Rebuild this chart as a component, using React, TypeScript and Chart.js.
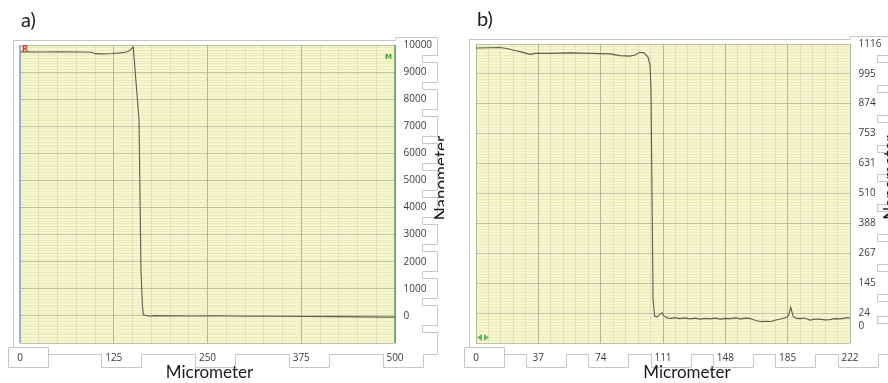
import React, { useEffect, useRef } from "react";
import { Chart, registerables } from "chart.js";

Chart.register(...registerables);

// ---- a) full scan: position (µm) vs height (nm) ----
const scanAx = [0, 25, 55, 80, 96, 100, 110, 122, 134, 142, 146, 148.5, 151, 158.7, 161.3, 163.2, 164.4, 167, 172, 180, 200, 230, 260, 300, 340, 380, 420, 460, 500];
const scanAy = [9745, 9742, 9748, 9740, 9735, 9680, 9672, 9685, 9710, 9740, 9790, 9860, 9930, 7230, 1700, 400, 40, 25, -10, 10, 0, -5, 5, -10, -15, -20, -25, -35, -45];
const xTicksA = [0, 125, 250, 375, 500];
const yTicksA = [10000, 9000, 8000, 7000, 6000, 5000, 4000, 3000, 2000, 1000, 0];
const yGridA = [10000, 9000, 8000, 7000, 6000, 5000, 4000, 3000, 2000, 1000, 0, -1000];

// ---- b) zoomed scan ----
const scanBx = [0, 8, 14, 18.4, 23, 28, 32, 35, 44, 56, 68, 79.5, 85.5, 91.4, 94.4, 97.3, 99.7, 102.1, 103.3, 103.9, 104.5, 105.1, 106, 107.4, 109.2, 110.4, 111.6, 114, 116, 118, 121, 124, 127, 130, 133, 136, 139, 142, 145, 148, 151, 154, 157, 160, 163, 166, 169, 172, 175, 178, 181, 184, 185.5, 186.8, 188.3, 190, 192.3, 195, 198.3, 201, 204, 207, 210, 213, 216, 219, 221, 222];
const scanBy = [1100, 1101, 1102, 1098, 1090, 1082, 1074, 1078, 1078, 1080, 1078, 1076, 1069, 1067, 1071, 1082, 1080, 1063, 1031, 930, 485, 80, 12, 8, 20, 26, 12, 4, 3, 6, 2, 5, 1, 4, 0, 3, 1, 4, 0, 3, 2, 5, 1, 4, 2, -6, -10, -9, -10, -4, 0, 6, 14, 48, 10, 4, 2, 4, -4, 0, 0, -3, -2, 2, 1, 4, 6, 2];
const xTicksB = [0, 37, 74, 111, 148, 185, 222];
const yTicksB = [1116, 995, 874, 753, 631, 510, 388, 267, 145, 24, 0];
const yGridB = [1116, 995, 874, 753, 631, 510, 388, 267, 145, 24, -97];

const PAPER = "#f7f7cf";
const MAJOR_V = "rgba(158,162,146,0.8)";
const MAJOR_H = "rgba(176,178,148,0.8)";
const MINOR_V = "rgba(170,170,160,0.28)";
const MINOR_H = "rgba(212,212,150,0.32)";
const BOX = "#c6c6c6";
const TRACE = "#5c5c52";
const TICK_FONT = '10px "Open Sans", sans-serif';
const TITLE_FONT = '17px Lato, sans-serif';
const TAG_FONT = '20px Lato, sans-serif';

interface PanelSpec {
  tag: string;
  xs: number[];
  ys: number[];
  xTicks: number[];
  xMinorDiv: number;
  yTicks: number[];
  yGrid: number[];
  yMinorDiv: number;
  pad: { left: number; top: number; right: number; bottom: number };
  xTitleShift: number;
  yTitleGap: number;
  cursors: boolean;
  arrows: boolean;
}

const panelA: PanelSpec = {
  tag: "a",
  xs: scanAx,
  ys: scanAy,
  xTicks: xTicksA,
  xMinorDiv: 5,
  yTicks: yTicksA,
  yGrid: yGridA,
  yMinorDiv: 10,
  pad: { left: 20, top: 45, right: 49, bottom: 40 },
  xTitleShift: 2,
  yTitleGap: 52,
  cursors: true,
  arrows: false,
};

const panelB: PanelSpec = {
  tag: "b",
  xs: scanBx,
  ys: scanBy,
  xTicks: xTicksB,
  xMinorDiv: 5,
  yTicks: yTicksB,
  yGrid: yGridB,
  yMinorDiv: 10,
  pad: { left: 32, top: 44, right: 38, bottom: 40 },
  xTitleShift: 24,
  yTitleGap: 46,
  cursors: false,
  arrows: true,
};

type GridTick = { value: number; major: boolean };

// Major lines at the given values, evenly split minor lines in between
function gridTicks(majors: number[], div: number): GridTick[] {
  const sorted = [...majors].sort((p, q) => p - q);
  const out: GridTick[] = [];
  for (let i = 0; i < sorted.length; i++) {
    out.push({ value: sorted[i], major: true });
    if (i < sorted.length - 1) {
      const step = (sorted[i + 1] - sorted[i]) / div;
      for (let k = 1; k < div; k++) out.push({ value: sorted[i] + k * step, major: false });
    }
  }
  return out;
}

function decorPlugin(spec: PanelSpec) {
  return {
    id: "decor_" + spec.tag,
    beforeDraw(chart: any) {
      const { ctx, chartArea: a } = chart;
      ctx.save();
      ctx.fillStyle = PAPER;
      ctx.fillRect(a.left, a.top, a.right - a.left, a.bottom - a.top);
      ctx.restore();
    },
    afterDraw(chart: any) {
      const { ctx, chartArea: a, scales } = chart;
      const sx = scales.x;
      const sy = scales.y;
      const L = a.left, R = a.right, T = a.top, B = a.bottom;
      const px = (v: number) => Math.floor(v) + 0.5;
      ctx.save();

      // measurement cursors on the plot edges
      if (spec.cursors) {
        ctx.lineWidth = 1.5;
        ctx.strokeStyle = "#7fa3dc";
        ctx.beginPath();
        ctx.moveTo(L, T);
        ctx.lineTo(L, B);
        ctx.stroke();
        ctx.strokeStyle = "#4fa64f";
        ctx.beginPath();
        ctx.moveTo(R, T);
        ctx.lineTo(R, B);
        ctx.stroke();
        ctx.textAlign = "left";
        ctx.textBaseline = "top";
        ctx.font = 'bold 8px "DejaVu Sans", sans-serif';
        ctx.fillStyle = "#e23b3b";
        ctx.fillText("R", L + 2, T + 1);
        ctx.font = 'bold 7px "DejaVu Sans", sans-serif';
        ctx.fillStyle = "#3f9b3f";
        ctx.fillText("M", R - 10, T + 9);
      }

      // scroll arrows in the lower-left corner
      if (spec.arrows) {
        const cy = B - 5.5;
        ctx.fillStyle = "#62b862";
        ctx.beginPath();
        ctx.moveTo(L + 1, cy);
        ctx.lineTo(L + 6, cy - 3.5);
        ctx.lineTo(L + 6, cy + 3.5);
        ctx.closePath();
        ctx.moveTo(L + 13, cy);
        ctx.lineTo(L + 8, cy - 3.5);
        ctx.lineTo(L + 8, cy + 3.5);
        ctx.closePath();
        ctx.fill();
      }

      const colR = R + 42;
      const notchX = R + 27;

      // y labels, pushed apart where they would collide
      const yl = spec.yTicks
        .map((v) => ({ v, y: sy.getPixelForValue(v) }))
        .sort((p, q) => p.y - q.y);
      for (let i = 1; i < yl.length; i++) {
        if (yl[i].y < yl[i - 1].y + 13) yl[i].y = yl[i - 1].y + 13;
      }
      const slots = yl.map((p) => p.y);
      const bottomMajor = sy.getPixelForValue(Math.min(...spec.yGrid));
      if (bottomMajor - slots[slots.length - 1] >= 20) slots.push(bottomMajor);

      // frame and the stepped y label column
      ctx.strokeStyle = BOX;
      ctx.lineWidth = 1;
      ctx.beginPath();
      ctx.moveTo(px(L - 7), px(B + 4));
      ctx.lineTo(px(L - 7), px(T - 5));
      ctx.lineTo(px(R), px(T - 5));
      ctx.lineTo(px(R), px(T - 8));
      ctx.lineTo(px(colR), px(T - 8));
      for (let i = 0; i < slots.length - 1; i++) {
        const m = (slots[i] + slots[i + 1]) / 2;
        ctx.lineTo(px(colR), px(m - 3.5));
        ctx.lineTo(px(notchX), px(m - 3.5));
        ctx.lineTo(px(notchX), px(m + 3.5));
        ctx.lineTo(px(colR), px(m + 3.5));
      }
      ctx.lineTo(px(colR), px(B + 11));
      ctx.stroke();

      // stepped x label row
      const cells = spec.xTicks.map((v) => {
        const p = sx.getPixelForValue(v);
        return { v, p, s: p - 12, e: p + 28 };
      });
      const top = B + 4, gapTop = B + 11, bot = B + 24;
      const c0 = cells[0];
      ctx.beginPath();
      ctx.moveTo(px(c0.s), px(bot));
      ctx.lineTo(px(c0.s), px(top));
      ctx.lineTo(px(c0.e), px(top));
      ctx.lineTo(px(c0.e), px(bot));
      ctx.moveTo(px(c0.s), px(bot));
      ctx.lineTo(px(c0.e), px(bot));
      ctx.lineTo(px(c0.e), px(gapTop));
      for (let i = 1; i < cells.length; i++) {
        const c = cells[i];
        ctx.lineTo(px(c.s), px(gapTop));
        ctx.lineTo(px(c.s), px(bot));
        ctx.lineTo(px(c.e), px(bot));
        ctx.lineTo(px(c.e), px(gapTop));
      }
      ctx.lineTo(px(colR), px(gapTop));
      ctx.stroke();

      // tick labels
      ctx.fillStyle = "#3a3a3a";
      ctx.font = TICK_FONT;
      ctx.textBaseline = "middle";
      ctx.textAlign = "left";
      yl.forEach((p) => ctx.fillText(String(p.v), R + 8.5, p.y));
      ctx.textAlign = "center";
      cells.forEach((c) => ctx.fillText(String(c.v), c.p, B + 15));

      // axis titles and panel tag
      ctx.fillStyle = "#1a1a1a";
      ctx.font = TITLE_FONT;
      ctx.textAlign = "center";
      ctx.textBaseline = "alphabetic";
      ctx.fillText("Micrometer", (L + R) / 2 + spec.xTitleShift, B + 35);
      ctx.save();
      ctx.translate(R + spec.yTitleGap, (T + B) / 2 - 16);
      ctx.rotate(-Math.PI / 2);
      ctx.fillText("Nanometer", 0, 0);
      ctx.restore();
      ctx.font = TAG_FONT;
      ctx.textAlign = "left";
      ctx.fillText(spec.tag + ")", L + 1, T - 18);

      ctx.restore();
    },
  };
}

function buildConfig(spec: PanelSpec): any {
  const xGrid = gridTicks(spec.xTicks, spec.xMinorDiv);
  const yGrid = gridTicks(spec.yGrid, spec.yMinorDiv);
  const points = spec.xs.map((x, i) => ({ x, y: spec.ys[i] }));
  return {
    type: "line",
    data: {
      datasets: [
        {
          data: points,
          borderColor: TRACE,
          borderWidth: 1.1,
          pointRadius: 0,
          tension: 0,
          fill: false,
        },
      ],
    },
    options: {
      responsive: false,
      animation: false,
      devicePixelRatio: 1,
      layout: { padding: spec.pad },
      plugins: { legend: { display: false }, tooltip: { enabled: false } },
      scales: {
        x: {
          type: "linear",
          min: spec.xTicks[0],
          max: spec.xTicks[spec.xTicks.length - 1],
          afterBuildTicks: (s: any) => {
            s.ticks = xGrid.map((t) => ({ ...t }));
          },
          afterFit: (s: any) => {
            s.height = 0;
          },
          ticks: { display: false },
          border: { display: false },
          grid: {
            drawTicks: false,
            color: (c: any) => (c.tick && c.tick.major ? MAJOR_V : MINOR_V),
            lineWidth: 1,
          },
        },
        y: {
          type: "linear",
          min: Math.min(...spec.yGrid),
          max: Math.max(...spec.yGrid),
          afterBuildTicks: (s: any) => {
            s.ticks = yGrid.map((t) => ({ ...t }));
          },
          afterFit: (s: any) => {
            s.width = 0;
          },
          ticks: { display: false },
          border: { display: false },
          grid: {
            drawTicks: false,
            color: (c: any) => (c.tick && c.tick.major ? MAJOR_H : MINOR_H),
            lineWidth: 1,
          },
        },
      },
    },
    plugins: [decorPlugin(spec)],
  };
}

function Panel({ spec }: { spec: PanelSpec }) {
  const ref = useRef<HTMLCanvasElement>(null);
  useEffect(() => {
    const chart = new Chart(ref.current as HTMLCanvasElement, buildConfig(spec));
    return () => chart.destroy();
  }, [spec]);
  return (
    <canvas
      ref={ref}
      width={444}
      height={383}
      style={{ display: "block", width: 444, height: 383 }}
    />
  );
}

export default function App() {
  return (
    <div
      style={{
        position: "absolute",
        left: 0,
        top: 0,
        width: 888,
        height: 383,
        display: "flex",
        background: "#ffffff",
        overflow: "hidden",
      }}
    >
      <Panel spec={panelA} />
      <Panel spec={panelB} />
    </div>
  );
}
